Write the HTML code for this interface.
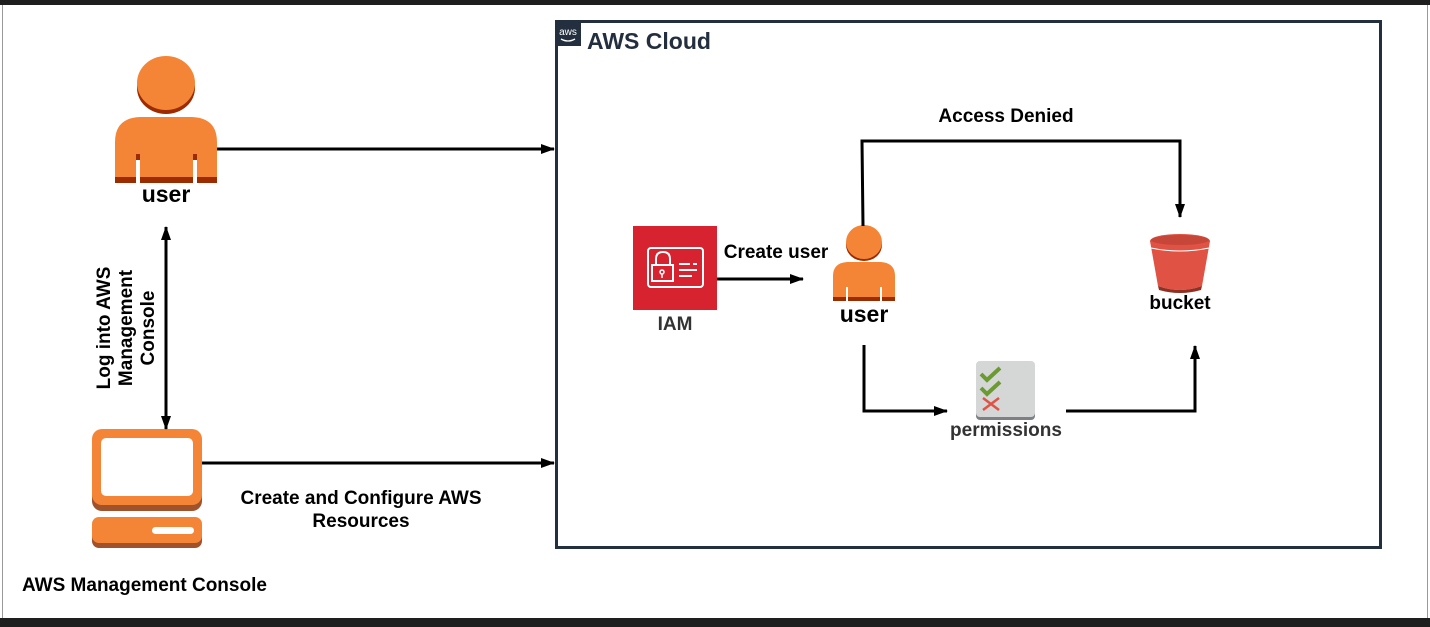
<!DOCTYPE html>
<html><head><meta charset="utf-8"><style>
html,body{margin:0;padding:0;background:#fff;}
svg{display:block;font-family:"Liberation Sans",Arial,sans-serif;}
</style></head><body>
<svg width="1430" height="627" viewBox="0 0 1430 627" xmlns="http://www.w3.org/2000/svg">
<defs>
<marker id="ah" markerWidth="14" markerHeight="10" refX="13" refY="5" orient="auto" markerUnits="userSpaceOnUse">
<path d="M0,0 L14,5 L0,10 Z" fill="#000"/></marker>
<marker id="ahs" markerWidth="14" markerHeight="10" refX="1" refY="5" orient="auto" markerUnits="userSpaceOnUse">
<path d="M14,0 L0,5 L14,10 Z" fill="#000"/></marker>
</defs>
<rect x="0" y="0" width="1430" height="627" fill="#fff"/>
<rect x="0" y="0" width="1430" height="5" fill="#1e1e1e"/>
<rect x="0" y="618" width="1430" height="9" fill="#1e1e1e"/>
<rect x="2" y="5" width="1" height="613" fill="#999"/>
<rect x="1427" y="5" width="1" height="613" fill="#999"/>

<!-- AWS cloud -->
<rect x="556.5" y="21.5" width="824" height="526" fill="none" stroke="#232f3e" stroke-width="3"/>
<rect x="556" y="21" width="25" height="25" fill="#232f3e"/>
<text x="568" y="35" font-size="10" fill="#fff" text-anchor="middle">aws</text>
<path d="M561,39 Q568,43 575,39" stroke="#fff" stroke-width="1.3" fill="none"/>
<text x="587" y="49" font-size="23" font-weight="bold" fill="#232f3e">AWS Cloud</text>

<!-- big user -->
<ellipse cx="166" cy="88" rx="29" ry="26" fill="#9d2b00"/>
<ellipse cx="166" cy="83" rx="29" ry="27" fill="#f58536"/>
<path d="M115,183 V142 Q115,118 140,117 H192 Q217,118 217,142 V183 Z" fill="#f58536"/>
<rect x="115" y="177" width="102" height="6" fill="#9d2b00"/>
<rect x="136" y="154" width="4" height="29" fill="#fff"/>
<rect x="136" y="154" width="4" height="6" fill="#9d2b00"/>
<rect x="193" y="154" width="4" height="29" fill="#fff"/>
<rect x="193" y="154" width="4" height="6" fill="#9d2b00"/>
<text x="166" y="202" font-size="23" font-weight="bold" text-anchor="middle">user</text>

<!-- computer -->
<rect x="92" y="433" width="110" height="78" rx="10" fill="#a0522d"/>
<rect x="92" y="429" width="110" height="76" rx="10" fill="#f58536"/>
<rect x="101" y="438" width="92" height="58" rx="5" fill="#fff"/>
<rect x="92" y="520" width="110" height="28" rx="7" fill="#a0522d"/>
<rect x="92" y="517" width="110" height="26" rx="7" fill="#f58536"/>
<rect x="152" y="527" width="42" height="7" rx="3.5" fill="#fff"/>
<text x="22" y="591" font-size="19" font-weight="bold">AWS Management Console</text>

<!-- left arrows -->
<line x1="217" y1="149" x2="554" y2="149" stroke="#000" stroke-width="3" marker-end="url(#ah)"/>
<line x1="202" y1="463" x2="554" y2="463" stroke="#000" stroke-width="3" marker-end="url(#ah)"/>
<line x1="166" y1="227" x2="166" y2="429" stroke="#000" stroke-width="3" marker-start="url(#ahs)" marker-end="url(#ah)"/>
<text transform="translate(110,328) rotate(-90)" font-size="19" font-weight="bold" text-anchor="middle">Log into AWS</text>
<text transform="translate(132,328) rotate(-90)" font-size="19" font-weight="bold" text-anchor="middle">Management</text>
<text transform="translate(154,328) rotate(-90)" font-size="19" font-weight="bold" text-anchor="middle">Console</text>
<text x="361" y="504" font-size="19" font-weight="bold" text-anchor="middle">Create and Configure AWS</text>
<text x="361" y="527" font-size="19" font-weight="bold" text-anchor="middle">Resources</text>

<!-- IAM -->
<rect x="633" y="226" width="84" height="84" fill="#d6232f"/>
<rect x="648" y="248" width="55" height="39" rx="3" fill="none" stroke="#fff" stroke-width="2"/>
<path d="M656,265 V259 Q656,252 663,252 Q670,252 670,259 V265" fill="none" stroke="#fff" stroke-width="2"/>
<rect x="652" y="265" width="21" height="16" fill="none" stroke="#fff" stroke-width="2"/>
<circle cx="662" cy="272" r="2" fill="none" stroke="#fff" stroke-width="1.5"/>
<line x1="662" y1="274" x2="662" y2="278" stroke="#fff" stroke-width="1.5"/>
<line x1="679" y1="264" x2="690" y2="264" stroke="#fff" stroke-width="2"/>
<line x1="693" y1="264" x2="697" y2="264" stroke="#fff" stroke-width="2"/>
<line x1="679" y1="270" x2="697" y2="270" stroke="#fff" stroke-width="2"/>
<line x1="679" y1="276" x2="692" y2="276" stroke="#fff" stroke-width="2"/>
<text x="675" y="330" font-size="19" font-weight="bold" fill="#333" text-anchor="middle">IAM</text>

<line x1="717" y1="279" x2="803" y2="279" stroke="#000" stroke-width="3" marker-end="url(#ah)"/>
<text x="776" y="258" font-size="19" font-weight="bold" text-anchor="middle">Create user</text>

<!-- small user -->
<ellipse cx="864" cy="245" rx="18" ry="16" fill="#9d2b00"/>
<ellipse cx="864" cy="242" rx="18" ry="17" fill="#f58536"/>
<path d="M833,301 V276 Q833,263 847,262 H881 Q895,263 895,276 V301 Z" fill="#f58536"/>
<rect x="833" y="297" width="62" height="4" fill="#9d2b00"/>
<rect x="846" y="287" width="2" height="14" fill="#fff"/>
<rect x="880" y="287" width="2" height="14" fill="#fff"/>
<text x="864" y="322" font-size="23" font-weight="bold" text-anchor="middle">user</text>

<!-- Access denied -->
<polyline points="863,226 862,141 1180,141 1180,217" fill="none" stroke="#000" stroke-width="3" marker-end="url(#ah)"/>
<text x="1006" y="122" font-size="19" font-weight="bold" text-anchor="middle">Access Denied</text>

<!-- bucket -->
<path d="M1150,241 L1158,286 Q1180,294 1202,286 L1210,241 Z" fill="#e05243"/>
<path d="M1158,286 Q1180,294 1202,286 L1201,290 Q1180,296 1159,290 Z" fill="#8c3123"/>
<ellipse cx="1180" cy="241" rx="30" ry="7" fill="#e05243"/>
<ellipse cx="1180" cy="240" rx="29" ry="5" fill="#c7463a"/>
<path d="M1151,248 Q1180,254 1209,248" stroke="#fff" stroke-width="1" fill="none"/>
<text x="1180" y="309" font-size="19" font-weight="bold" text-anchor="middle">bucket</text>

<!-- permissions -->
<polyline points="864,345 864,411 947,411" fill="none" stroke="#000" stroke-width="3" marker-end="url(#ah)"/>
<rect x="976" y="363" width="59" height="57" rx="4" fill="#7d8084"/>
<rect x="976" y="361" width="59" height="56" rx="4" fill="#d5d6d6"/>
<path d="M981,374 L987,380 L1000,368" stroke="#6b9a30" stroke-width="4" fill="none"/>
<path d="M981,388 L987,394 L1000,382" stroke="#6b9a30" stroke-width="4" fill="none"/>
<path d="M983,398 L999,410 M999,398 L983,410" stroke="#e05243" stroke-width="2.5" fill="none"/>
<text x="1006" y="436" font-size="19" font-weight="bold" fill="#333" text-anchor="middle">permissions</text>
<polyline points="1066,411 1195,411 1195,346" fill="none" stroke="#000" stroke-width="3" marker-end="url(#ah)"/>
</svg>
</body></html>
